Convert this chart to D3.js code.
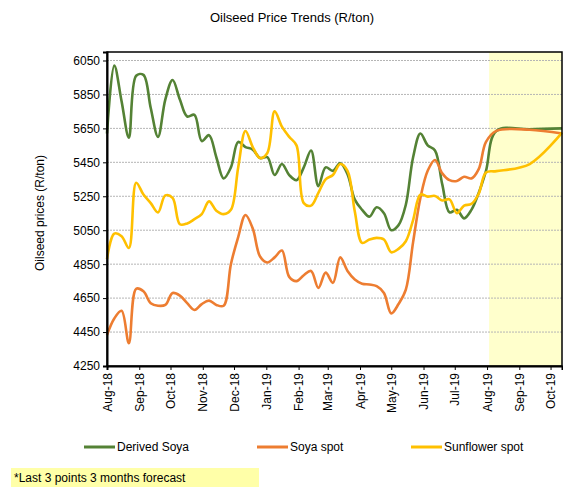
<!DOCTYPE html>
<html>
<head>
<meta charset="utf-8">
<script src="https://cdnjs.cloudflare.com/ajax/libs/d3/7.8.5/d3.min.js"></script>
<style>
  body { margin: 0; background: #fff; }
  text { font-family: "Liberation Sans", Arial, sans-serif; fill: #000; }
</style>
</head>
<body>
<script>
// weekly prices, Aug 2018 - Jul 2019, then 3 forecast points
var weeks = 53;
var forecastDates = ["2019-08-10", "2019-09-11", "2019-10-12"];

var derivedSoya = [5620, 6020, 5810, 5595, 5960, 5965, 5770, 5600, 5820, 5935,
  5820, 5720, 5730, 5575, 5610, 5480, 5355, 5420, 5570, 5540,
  5525, 5475, 5480, 5375, 5440, 5375, 5345, 5420, 5520, 5310,
  5420, 5400, 5445, 5380, 5230, 5170, 5130, 5185, 5150, 5050,
  5080, 5200, 5480, 5620, 5550, 5520, 5320, 5155, 5170, 5120,
  5170, 5270, 5400,
  5635, 5645, 5650];

var soyaSpot = [4433, 4530, 4575, 4385, 4705, 4690, 4620, 4605, 4610, 4680,
  4665, 4620, 4580, 4615, 4635, 4610, 4605, 4850, 5010, 5140,
  5060, 4895, 4860, 4890, 4930, 4775, 4750, 4785, 4810, 4710,
  4800, 4740, 4890, 4810, 4760, 4735, 4730, 4720, 4680, 4560,
  4615, 4700, 4980, 5240, 5400, 5464, 5385, 5345, 5340, 5365,
  5355, 5410, 5570,
  5635, 5642, 5620];

var sunflowerSpot = [4880, 5030, 5015, 4945, 5330, 5260, 5210, 5155, 5255, 5240,
  5085, 5090, 5115, 5145, 5220, 5165, 5145, 5170, 5420, 5635,
  5540, 5475, 5505, 5750, 5660, 5600, 5550, 5210, 5195, 5270,
  5350, 5375, 5440, 5400, 5160, 4975, 4995, 5005, 4995, 4920,
  4940, 4985, 5110, 5260, 5248, 5252, 5225, 5232, 5150, 5195,
  5205, 5265, 5390,
  5398, 5440, 5625];

var seriesNames = ["Derived Soya", "Soya spot", "Sunflower spot"];
var seriesColors = ["#548235", "#ED7D31", "#FFC000"];
var yTicks = [4250, 4450, 4650, 4850, 5050, 5250, 5450, 5650, 5850, 6050];

var parse = d3.timeParse("%Y-%m-%d");
var dates = [];
for (i = 0; i < weeks; i++) {
  dates.push(d3.timeDay.offset(parse("2018-08-01"), i * 7));
}
forecastDates.forEach(function(d) { dates.push(parse(d)); });

var W = 563, H = 487;
var margin = {top: 52, right: 1, bottom: 121, left: 107},
    width = W - margin.left - margin.right,
    height = H - margin.top - margin.bottom;

var svg = d3.select("body").append("svg")
    .attr("width", W)
    .attr("height", H);

svg.append("text")
    .attr("x", 292).attr("y", 22)
    .attr("text-anchor", "middle")
    .style("font-size", "13px")
    .text("Oilseed Price Trends (R/ton)");

var g = svg.append("g")
    .attr("transform", "translate(" + margin.left + "," + margin.top + ")");

var x = d3.scaleTime()
    .domain([parse("2018-08-01"), parse("2019-10-12")])
    .range([0, width]);

var y = d3.scaleLinear()
    .domain([4250, 6100])
    .range([height, 0]);

// forecast shading
g.append("rect")
    .attr("x", x(parse("2019-08-03")))
    .attr("y", 0)
    .attr("width", width - x(parse("2019-08-03")))
    .attr("height", height)
    .attr("fill", "#FFFFCC");

// gridlines
g.selectAll(".grid")
  .data(yTicks.slice(1))
  .enter().append("line")
    .attr("x1", 0).attr("x2", width)
    .attr("y1", function(d) { return y(d); })
    .attr("y2", function(d) { return y(d); })
    .attr("stroke", "#b5b5b5")
    .attr("stroke-width", 1)
    .attr("stroke-dasharray", "2,1");

var line = d3.line()
    .x(function(d) { return x(d.date); })
    .y(function(d) { return y(d.value); })
    .curve(d3.curveCatmullRom);

[derivedSoya, soyaSpot, sunflowerSpot].forEach(function(s, i) {
  var pts = s.map(function(v, j) { return {date: dates[j], value: v}; });
  g.append("path")
      .datum(pts)
      .attr("fill", "none")
      .attr("stroke", seriesColors[i])
      .attr("stroke-width", 2.6)
      .attr("stroke-linejoin", "round")
      .attr("d", line);
});

// frame
g.append("rect")
    .attr("x", 0).attr("y", 0)
    .attr("width", width).attr("height", height)
    .attr("fill", "none")
    .attr("stroke", "#000")
    .attr("stroke-width", 1.5);

// y axis
var yAxis = g.append("g")
    .call(d3.axisLeft(y).tickValues(yTicks).tickSize(4).tickFormat(d3.format("d")));
yAxis.select(".domain").attr("stroke-width", 2);
yAxis.selectAll("text")
    .style("font-size", "12px")
    .attr("x", -7);

// x axis
var xAxis = g.append("g")
    .attr("transform", "translate(0," + height + ")")
    .call(d3.axisBottom(x)
      .ticks(d3.timeMonth.every(1))
      .tickSize(4)
      .tickFormat(d3.timeFormat("%b-%y")));
xAxis.select(".domain").attr("stroke-width", 2);
xAxis.selectAll("text")
    .style("font-size", "12px")
    .attr("transform", "rotate(-90)")
    .attr("text-anchor", "end")
    .attr("x", -7)
    .attr("y", 0)
    .attr("dy", "0.35em");

svg.append("text")
    .attr("transform", "translate(44,213) rotate(-90)")
    .attr("text-anchor", "middle")
    .style("font-size", "12px")
    .text("Oilseed prices (R/ton)");

// legend
var legendX = [84, 257, 411];
seriesNames.forEach(function(name, i) {
  svg.append("line")
      .attr("x1", legendX[i]).attr("x2", legendX[i] + 31)
      .attr("y1", 447).attr("y2", 447)
      .attr("stroke", seriesColors[i])
      .attr("stroke-width", 3);
  svg.append("text")
      .attr("x", legendX[i] + 33).attr("y", 451)
      .style("font-size", "12px")
      .text(name);
});

// forecast note
svg.append("rect")
    .attr("x", 11).attr("y", 468)
    .attr("width", 248).attr("height", 19)
    .attr("fill", "#FFFFA8");
svg.append("text")
    .attr("x", 14).attr("y", 482)
    .style("font-size", "12px")
    .text("*Last 3 points 3 months forecast");
</script>
</body>
</html>
